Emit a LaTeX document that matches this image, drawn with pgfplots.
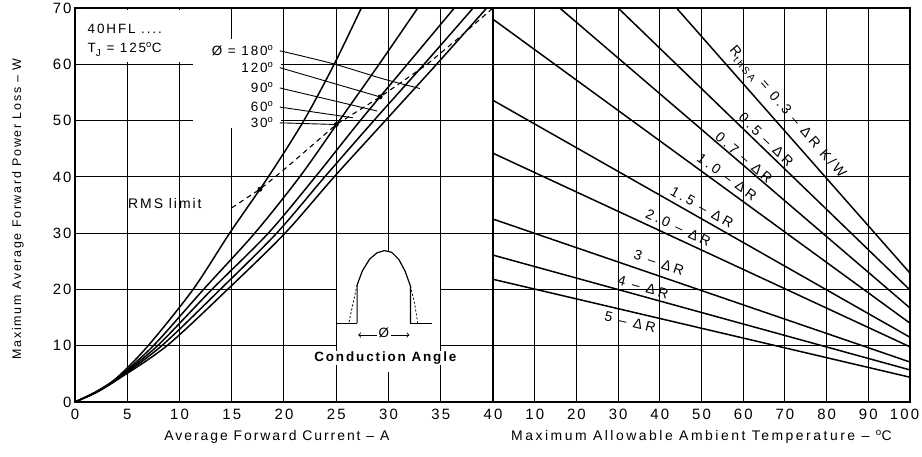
\documentclass[border=0pt]{standalone}
\usepackage{fontspec}
\setmainfont{Liberation Sans}[LetterSpace=14]
\usepackage{pgfplots}
\pgfplotsset{compat=1.18}

\newcommand\sub[1]{\raisebox{-0.28em}{\fontsize{10}{10}\selectfont #1}}

\pgfplotsset{
  sheet/.style={
    scale only axis, height=394bp,
    ymin=0, ymax=70, ytick={0,10,...,70},
    grid=major,
    major grid style={black, line width=1bp},
    axis line style={black, line width=2.6bp},
    tick style={draw=none},
    tick label style={font=\fontsize{15}{15}\selectfont},
    xticklabel style={yshift=-4bp},
    /pgf/number format/assume math mode=true,
    label style={font=\fontsize{14}{14}\selectfont},
  },
  curve/.style={black, line width=1.5bp, smooth},
  rline/.style={black, line width=1.5bp},
  lead/.style={black, line width=0.9bp},
}
\tikzset{
  ann/.style={font=\fontsize{13.5}{13.5}\selectfont, inner sep=1bp},
  rlab/.style={font=\addfontfeature{LetterSpace=22}\fontsize{14}{14}\selectfont, inner sep=0bp},
}

\begin{document}
\begin{tikzpicture}
\path[use as bounding box] (0,0) rectangle (922bp,457bp);

% ---------------- left: power loss vs current ----------------
\begin{axis}[sheet, at={(75bp,55bp)}, anchor=south west, width=418bp,
  xmin=0, xmax=40, xtick={0,5,...,40},
  xlabel={Average Forward Current -- A},
  ylabel={Maximum Average Forward Power Loss -- W},
  xlabel style={at={(axis description cs:0.483,-0.0888)}, anchor=center},
  ylabel style={at={(axis description cs:-0.1364,0.49)}, anchor=center,
    font=\fontsize{12.5}{12.5}\selectfont},
]
% blank areas of the sheet behind the texts
\fill[white] (axis cs:0.2,60.45) rectangle (axis cs:11.3,69.7);
\fill[white] (axis cs:11.3,48.6) rectangle (axis cs:19.7,64.5);
\fill[white] (axis cs:25.1,5.3) rectangle (axis cs:34.9,20.7);

% conduction angle curves, 30 .. 180 deg
\addplot[curve] coordinates {(0,0)(2,1.8)(4,4.3)(7,10)(11.3,20)(14.8,30)(18.5,40)(21.9,50)(24.8,60)(27.4,70)};
\addplot[curve] coordinates {(0,0)(2,1.8)(4,4.2)(7.5,10)(12.3,20)(17.2,30)(21.5,40)(25.3,50)(29.1,60)(32.8,70)};
\addplot[curve] coordinates {(0,0)(2,1.75)(4,4.1)(7.9,10)(13.1,20)(18.5,30)(23.0,40)(27.3,50)(31.8,60)(36.3,70)};
\addplot[curve] coordinates {(0,0)(2,1.7)(4,4.0)(8.3,10)(13.9,20)(19.3,30)(23.9,40)(28.6,50)(33.4,60)(38.1,70)};
\addplot[curve] coordinates {(0,0)(2,1.65)(4,3.9)(8.8,10)(14.6,20)(20.1,30)(24.8,40)(29.7,50)(34.6,60)(39.4,70)};

% RMS limit
\addplot[black, line width=1.1bp, dash pattern=on 5bp off 4bp] coordinates {
  (15,34.5)(17.7,37.8)(20.2,41.6)(25.0,49.3)(29.2,54.2)(33.7,60)(36.6,64.5)(40,70)};
\addplot[only marks, mark=*, mark size=2.2bp, black] coordinates {(17.7,37.8)(25.0,49.3)(29.2,54.2)};

% leaders from the angle labels
\addplot[lead, smooth] coordinates {(19.6,62.4)(24.7,60.1)(29.5,57.4)(33.0,55.7)};
\addplot[lead] coordinates {(19.6,59.4)(29.2,54.2)};
\addplot[lead] coordinates {(19.6,55.8)(28.9,51.7)};
\addplot[lead] coordinates {(19.6,52.4)(26.6,50.5)};
\addplot[lead] coordinates {(19.6,49.6)(25.0,49.3)};

\node[ann, anchor=west] at (axis cs:1.1,66.3) {40HFL ....};
\node[ann, anchor=west] at (axis cs:1.1,62.6) {T\sub{J} = 125\textsuperscript{o}C};
\node[ann, anchor=east] at (axis cs:19.1,62.4) {Ø = 180\textsuperscript{o}};
\node[ann, anchor=east] at (axis cs:19.1,59.4) {120\textsuperscript{o}};
\node[ann, anchor=east] at (axis cs:19.1,55.8) {90\textsuperscript{o}};
\node[ann, anchor=east] at (axis cs:19.1,52.5) {60\textsuperscript{o}};
\node[ann, anchor=east] at (axis cs:19.1,49.7) {30\textsuperscript{o}};
\node[ann, font=\fontsize{14}{14}\selectfont] at (axis cs:8.6,35.3) {RMS limit};

% conduction angle sketch
\addplot[fill=white, draw=black, line width=1.2bp] coordinates {
  (27.0,14)(27.0,20.8)(27.5,23.3)(28.2,25.4)(28.9,26.5)(29.6,26.9)(30.3,26.6)
  (31.0,25.3)(31.6,23.2)(32.1,20.6)(32.1,14)};
\addplot[black, line width=1.2bp] coordinates {(25.1,14)(27.0,14)};
\addplot[black, line width=1.2bp] coordinates {(32.1,14)(34.2,14)};
\addplot[black, line width=0.8bp, dash pattern=on 2bp off 2bp] coordinates {(27.0,20.8)(26.6,17.5)(26.2,14)};
\addplot[black, line width=0.8bp, dash pattern=on 2bp off 2bp] coordinates {(32.1,20.6)(32.5,17.5)(32.8,14)};
\addplot[black, line width=0.9bp, <->] coordinates {(27.1,11.9)(32.0,11.9)};
\node[ann, fill=white, inner sep=1.5bp] at (axis cs:29.55,12.2) {Ø};
\node[font=\bfseries\fontsize{13.5}{13.5}\selectfont, fill=white, inner sep=1bp] at (axis cs:29.7,7.8) {Conduction Angle};
\end{axis}

% ---------------- right: derating vs ambient temperature ----------------
\begin{axis}[sheet, at={(493bp,55bp)}, anchor=south west, width=417bp,
  xmin=0, xmax=100, xtick={10,20,...,100}, yticklabels={},
  xticklabels={10,20,30,40,50,60,70,80,90,\hspace{-11bp}100},
  xlabel={Maximum Allowable Ambient Temperature -- \textsuperscript{o}C},
  xlabel style={at={(axis description cs:0.5,-0.0888)}, anchor=center,
    font=\addfontfeature{LetterSpace=18}\fontsize{14}{14}\selectfont},
]
\addplot[rline] coordinates {(44,70)(100,22.9)};
\addplot[rline] coordinates {(30,70)(100,19.9)};
\addplot[rline] coordinates {(16,70)(100,16.7)};
\addplot[rline] coordinates {(0,68)(100,14.0)};
\addplot[rline] coordinates {(0,53.6)(100,11.5)};
\addplot[rline] coordinates {(0,44.2)(100,9.8)};
\addplot[rline] coordinates {(0,32.5)(100,7.1)};
\addplot[rline] coordinates {(0,26.1)(100,5.7)};
\addplot[rline] coordinates {(0,21.8)(100,4.4)};

\node[rlab, rotate=-49] at (axis cs:70.5,51.4) {R\sub{thSA} = 0.3 -- ΔR K/W};
\node[rlab, rotate=-44] at (axis cs:65.5,46.6) {0.5 -- ΔR};
\node[rlab, rotate=-40.6] at (axis cs:60.2,43.4) {0.7 -- ΔR};
\node[rlab, rotate=-36] at (axis cs:56.1,40.0) {1.0 -- ΔR};
\node[rlab, rotate=-29.6] at (axis cs:50.1,34.6) {1.5 -- ΔR};
\node[rlab, rotate=-24.9] at (axis cs:44.4,31.0) {2.0 -- ΔR};
\node[rlab, rotate=-18.9] at (axis cs:39.8,24.8) {3 -- ΔR};
\node[rlab, rotate=-15.4] at (axis cs:36.0,20.4) {4 -- ΔR};
\node[rlab, rotate=-13.2] at (axis cs:32.9,14.2) {5 -- ΔR};
\end{axis}
\end{tikzpicture}
\end{document}
